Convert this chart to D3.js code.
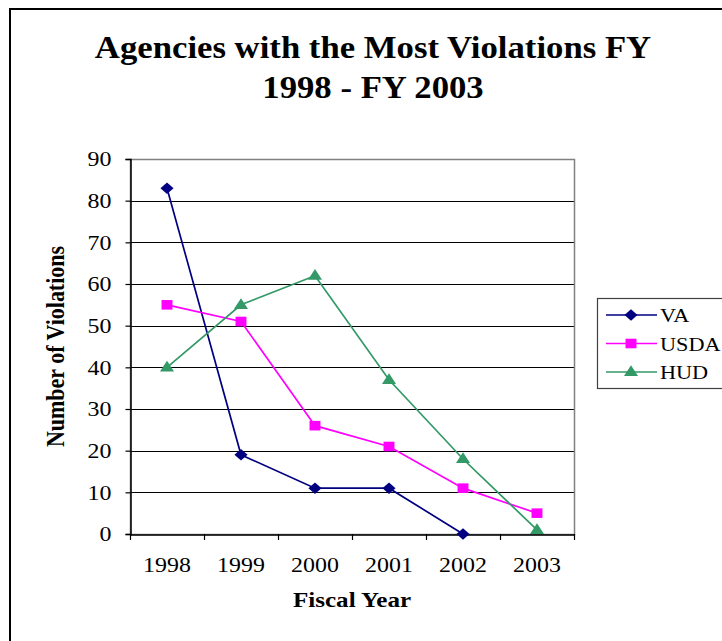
<!DOCTYPE html>
<html><head><meta charset="utf-8">
<script src="https://cdn.jsdelivr.net/npm/d3@7"></script>
<style>body{margin:0;background:#fff}svg{display:block}</style>
</head><body>
<script>
const years = ["1998","1999","2000","2001","2002","2003"];
const vaValues = [83, 19, 11, 11, 0, null];
const usdaValues = [55, 51, 26, 21, 11, 5];
const hudValues = [40, 55, 62, 37, 18, 1];
const yTicks = [0,10,20,30,40,50,60,70,80,90];
const seriesNames = ["VA","USDA","HUD"];
const seriesColors = ["#000080","#FF00FF","#339966"];

// wide diamond symbol
const wideDiamond = {draw(ctx, size) {
  const h = Math.sqrt(size / 2);
  ctx.moveTo(0, -h); ctx.lineTo(h, 0); ctx.lineTo(0, h); ctx.lineTo(-h, 0); ctx.closePath();
}};

const series = [
  {name: seriesNames[0], values: vaValues, color: seriesColors[0], shape: wideDiamond, size: 66, dy: 0},
  {name: seriesNames[1], values: usdaValues, color: seriesColors[1], shape: d3.symbolSquare, size: 92, dy: 0},
  {name: seriesNames[2], values: hudValues, color: seriesColors[2], shape: d3.symbolTriangle, size: 66, dy: 0.5}
];

const W = 722, H = 641;
const SX = 1.14; // horizontal stretch of the reference rendering
const svg = d3.select("body").append("svg").attr("width", W).attr("height", H);
const font = "'Liberation Serif','Times New Roman',serif";

// outer frame (only left/top visible)
svg.append("rect").attr("x", 10).attr("y", 9).attr("width", 760).attr("height", 700)
  .attr("fill", "none").attr("stroke", "#000").attr("stroke-width", 2);

// title
const title = svg.append("text").attr("text-anchor", "middle").attr("font-family", font)
  .attr("font-weight", "bold").attr("font-size", 31).attr("fill", "#000")
  .attr("transform", `translate(373,0) scale(1.12,1)`);
title.append("tspan").attr("x", 0).attr("y", 58).text("Agencies with the Most Violations FY");
title.append("tspan").attr("x", 0).attr("y", 98).text("1998 - FY 2003");

const pLeft = 130, pRight = 574, pTop = 159, pBottom = 534;
const x = d3.scaleBand().domain(years).range([pLeft, pRight]).padding(0);
const y = d3.scaleLinear().domain([0, 90]).range([pBottom, pTop]);

// gridlines
svg.append("g").selectAll("line").data(yTicks.filter(t => t > 0)).join("line")
  .attr("x1", pLeft).attr("x2", pRight)
  .attr("y1", d => Math.round(y(d)) + 0.5).attr("y2", d => Math.round(y(d)) + 0.5)
  .attr("stroke", "#000").attr("stroke-width", 1);

// plot border
svg.append("rect").attr("x", pLeft + 0.5).attr("y", pTop + 0.5)
  .attr("width", pRight - pLeft).attr("height", pBottom - pTop)
  .attr("fill", "none").attr("stroke", "#808080").attr("stroke-width", 1.5);

// y axis
const yAxis = svg.append("g").attr("transform", `translate(${pLeft + 0.5},0)`)
  .call(d3.axisLeft(y).tickValues(yTicks).tickSize(5).tickPadding(10));
yAxis.select(".domain").attr("stroke", "#000").attr("stroke-width", 1.5);
yAxis.selectAll(".tick line").attr("stroke", "#000").attr("stroke-width", 1.2);
yAxis.selectAll(".tick text").attr("font-family", font).attr("font-size", 21).attr("fill", "#000")
  .attr("x", 0).attr("transform", `translate(-19,0) scale(${SX},1)`);

// x axis
const xAxis = svg.append("g").attr("transform", `translate(0,${pBottom + 0.5})`)
  .call(d3.axisBottom(x).tickSize(0).tickPadding(23));
xAxis.select(".domain").attr("stroke", "#000").attr("stroke-width", 1.5);
xAxis.selectAll(".tick text").attr("font-family", font).attr("font-size", 21).attr("fill", "#000")
  .attr("transform", `scale(${SX},1)`);
const bounds = years.map(d => x(d)).concat([pRight]);
svg.append("g").selectAll("line").data(bounds).join("line")
  .attr("x1", d => Math.round(d) + 0.5).attr("x2", d => Math.round(d) + 0.5)
  .attr("y1", pBottom).attr("y2", pBottom + 6).attr("stroke", "#000").attr("stroke-width", 1.2);

// axis titles
svg.append("text").attr("transform", `translate(64,${(pTop + pBottom) / 2}) scale(${SX},1) rotate(-90)`)
  .attr("text-anchor", "middle").attr("font-family", font).attr("font-weight", "bold")
  .attr("font-size", 22).attr("fill", "#000").text("Number of Violations");
svg.append("text").attr("transform", `translate(${(pLeft + pRight) / 2},607) scale(${SX},1)`)
  .attr("text-anchor", "middle").attr("font-family", font).attr("font-weight", "bold")
  .attr("font-size", 22).attr("fill", "#000").text("Fiscal Year");

// series
const cx = d => x(d) + x.bandwidth() / 2;
series.forEach(s => {
  const pts = years.map((yr, i) => ({yr, v: s.values[i]})).filter(p => p.v !== null);
  svg.append("path").datum(pts)
    .attr("d", d3.line().x(p => cx(p.yr)).y(p => y(p.v)))
    .attr("fill", "none").attr("stroke", s.color).attr("stroke-width", 1.7);
  svg.append("g").selectAll("path").data(pts).join("path")
    .attr("transform", p => `translate(${cx(p.yr)},${y(p.v) + s.dy}) scale(${SX},1)`)
    .attr("d", d3.symbol().type(s.shape).size(s.size))
    .attr("fill", s.color);
});

// legend
const lg = svg.append("g");
lg.append("rect").attr("x", 597.5).attr("y", 298.5).attr("width", 140).attr("height", 90)
  .attr("fill", "#fff").attr("stroke", "#404040").attr("stroke-width", 1.2);
series.forEach((s, i) => {
  const ly = 315 + i * 28.5;
  lg.append("line").attr("x1", 606).attr("x2", 657).attr("y1", ly).attr("y2", ly)
    .attr("stroke", s.color).attr("stroke-width", 1.7);
  lg.append("path").attr("transform", `translate(631,${ly + s.dy}) scale(${SX},1)`)
    .attr("d", d3.symbol().type(s.shape).size(s.size)).attr("fill", s.color);
  lg.append("text").attr("transform", `translate(660,${ly + 7}) scale(${SX},1)`)
    .attr("font-family", font).attr("font-size", 19.5).attr("fill", "#000").text(s.name);
});
</script>
</body></html>
